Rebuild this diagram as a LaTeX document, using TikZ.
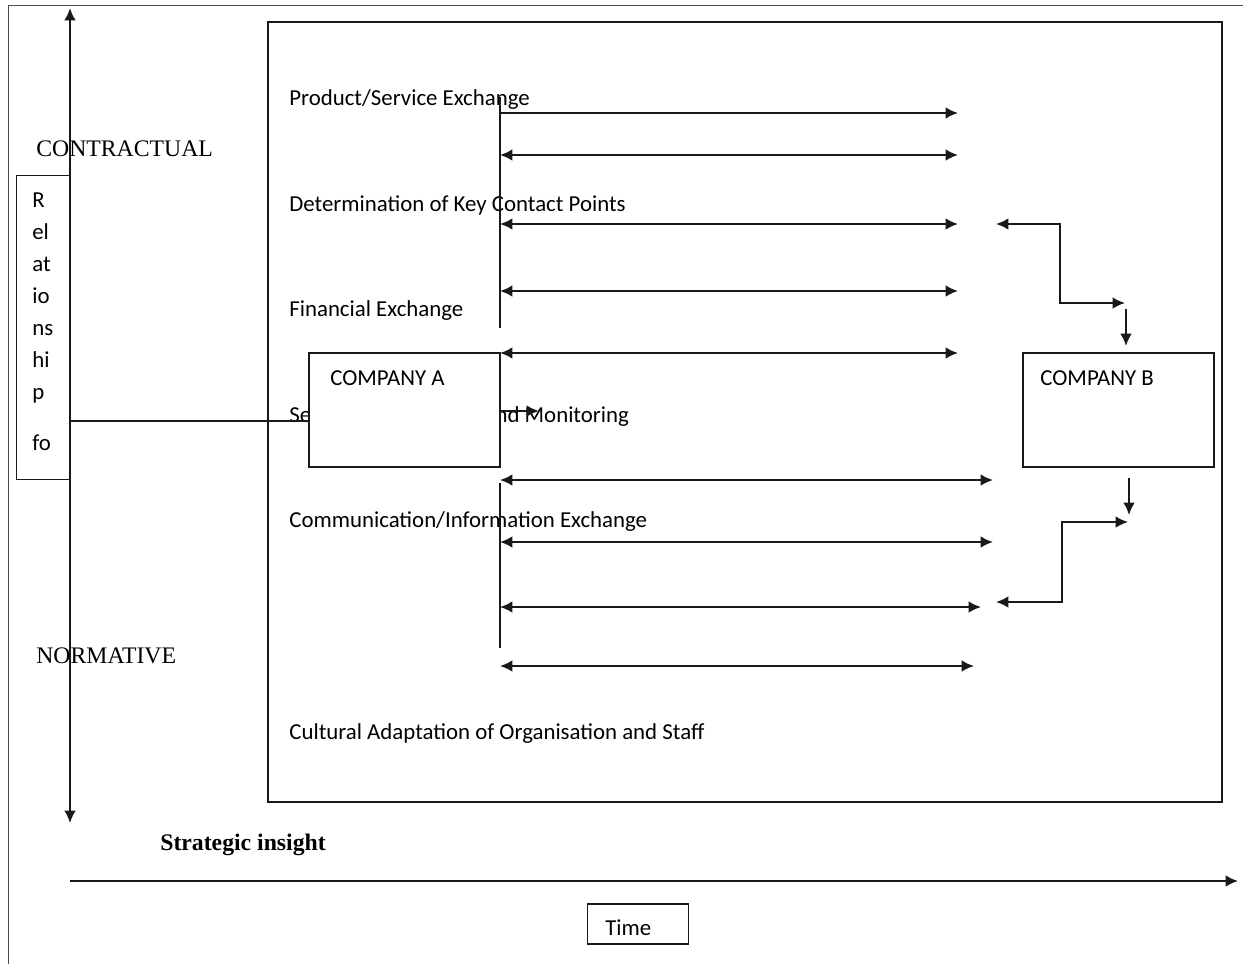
\documentclass[tikz,border=0pt]{standalone}
\usepackage{fontspec}
\setmainfont{Carlito}
\newfontfamily\bookserif{Liberation Serif}
\usetikzlibrary{arrows.meta,positioning}

\begin{document}
\begin{tikzpicture}[x=0.02cm, y=-0.02cm, font=\fontsize{13pt}{15pt}\selectfont]
\tikzset{
    stagelabel/.style={anchor=west, inner sep=0pt},
    companybox/.style={rectangle, draw=black!90, fill=white, line width=0.8pt, inner sep=0pt, minimum width=3.82cm, minimum height=2.28cm},
    oneway/.style={-{Latex[length=7pt,width=6.6pt]}, line width=1.1pt, draw=black!90},
    twoway/.style={{Latex[length=7pt,width=6.6pt]}-{Latex[length=7pt,width=6.6pt]}, line width=1.1pt, draw=black!90},
    axislabel/.style={anchor=west, inner sep=0pt, font=\bookserif\fontsize{13.5pt}{15pt}\selectfont}
}
\useasboundingbox (0,0) rectangle (1243,964);

% page frame, only left and top edges show
\draw[black!70, line width=0.5pt] (8,964) -- (8,5) -- (1243,5);
% the big frame round the exchange stages
\draw[black!90, line width=0.8pt] (268,22) rectangle (1222,802);

% relationship axis
\coordinate (axtop) at (70,8);
\coordinate (axbot) at (70,823);
\node[draw=black!90, line width=0.8pt, inner sep=0pt, minimum width=1.08cm, minimum height=6.08cm, anchor=north west] (relbox) at (16,175) {};
\draw[twoway] (axbot) -- (axtop);
\node[axislabel] (contractual) at (36,149) {CONTRACTUAL};
\node[axislabel] (normative) at (36,656) {NORMATIVE};
\node[anchor=north west, inner sep=0pt, align=left, font=\fontsize{13pt}{18.3pt}\selectfont] (reltext) at (32,192) {R\\el\\at\\io\\ns\\hi\\p\\[10.5pt]fo};

% stage labels
\node[stagelabel] (product) at (289,100) {Product/Service Exchange};
\node[stagelabel] (keycontact) at (289,205) {Determination of Key Contact Points};
\node[stagelabel] (financial) at (289,311) {Financial Exchange};
\node[stagelabel] (monitoring) at (289,417) {Setting of Objectives and Monitoring};
\node[stagelabel] (communication) at (289,522) {Communication/Information Exchange};
\node[stagelabel] (cultural) at (289,734) {Cultural Adaptation of Organisation and Staff};

% the two companies
\node[companybox] (compA) at (404.5,410) {};
\node[stagelabel] (compAtext) at (330,378) {COMPANY A};
\node[companybox] (compB) at (1118.5,410) {};
\node[stagelabel] (compBtext) at (1040,378) {COMPANY B};

\coordinate (relout) at (70,421);
\draw[black!90, line width=0.8pt] (relout) -- (relout -| compA.west);
\coordinate (shorttip) at (539,411);
\draw[oneway] (compA.east |- shorttip) -- (shorttip);

% left bars of the exchange arrows
\draw[black!90, line width=0.7pt] (500,97) -- (500,328);
\draw[black!90, line width=0.7pt] (500,483) -- (500,648);

% exchange arrows, upper group
\draw[oneway] (500,113) -- (958,113);
\draw[twoway] (500,155) -- (958,155);
\draw[twoway] (500,224) -- (958,224);
\draw[twoway] (500,291) -- (958,291);
\draw[twoway] (500,353) -- (958,353);
% exchange arrows, lower group
\draw[twoway] (500,480) -- (993,480);
\draw[twoway] (500,542) -- (993,542);
\draw[twoway] (500,607) -- (981,607);
\draw[twoway] (500,666) -- (974,666);

% links into and out of company B
\coordinate (upleft) at (996,224);
\coordinate (upright) at (1125,303);
\draw[twoway] (upleft) -- (1060,224) -- (1060,303) -- (upright);
\coordinate (intoB) at (1126,309);
\draw[oneway] (intoB) -- (intoB |- 0,346);
\coordinate (outofB) at (1129,478);
\draw[oneway] (outofB) -- (outofB |- 0,515);
\coordinate (lowleft) at (996,602);
\coordinate (lowright) at (1128,522);
\draw[twoway] (lowleft) -- (1062,602) -- (1062,522) -- (lowright);

% time axis
\node[axislabel, font=\bookserif\bfseries\fontsize{13.5pt}{15pt}\selectfont] (insight) at (160,845) {Strategic insight};
\coordinate (tstart) at (70,881);
\coordinate (tend) at (1238,881);
\draw[oneway] (tstart) -- (tend);
\node[draw=black!90, line width=0.8pt, inner sep=0pt, minimum width=2.02cm, minimum height=0.8cm] (timebox) at (638,924) {};
\node[stagelabel] (timetext) at (605,928) {Time};

\end{tikzpicture}
\end{document}
